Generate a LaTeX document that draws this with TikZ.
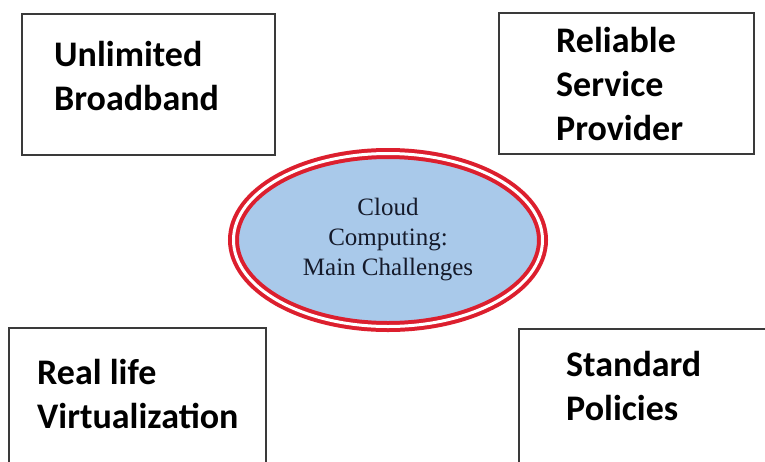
\documentclass[tikz,border=0pt]{standalone}
\usepackage{fontspec}
\setmainfont{Liberation Serif}
\newfontfamily\boxfont{Carlito}
\usetikzlibrary{shapes.geometric,positioning}
\definecolor{ringred}{HTML}{DC1F2E}
\definecolor{cloudblue}{HTML}{A9C9EA}
\definecolor{edgegray}{HTML}{3A3A3A}
\definecolor{inknavy}{HTML}{151A2A}
\begin{document}
\begin{tikzpicture}[x=1pt,y=-1pt,
  box/.style={draw=edgegray,line width=1.8pt,rectangle,inner sep=0pt},
  lbl/.style={font=\boxfont\bfseries\fontsize{36}{44}\selectfont,align=left,inner sep=0pt,anchor=base west},
  hub/.style={ellipse,draw=ringred,double=white,double distance=3pt,line width=4pt,fill=cloudblue,text=inknavy,font=\fontsize{25}{30}\selectfont,align=center,minimum width=309pt,minimum height=173pt,inner sep=0pt}]
\useasboundingbox[fill=white](0,0) rectangle (765,461);
\clip(0,0) rectangle (765,461);
\node(UB)[box,minimum width=253pt,minimum height=141pt] at (148.5,84.5){};
\node(RSP)[box,minimum width=255pt,minimum height=141pt] at (626.5,83.5){};
\node(RLV)[box,minimum width=257pt,minimum height=172pt] at (137.5,414){};
\node(SP)[box,minimum width=281pt,minimum height=171pt] at (659.5,414.5){};
\node(UBt)[lbl] at (54,110){Unlimited\\Broadband};
\node(RSPt)[lbl] at (556,140){Reliable\\Service\\Provider};
\node(RLVt)[lbl] at (37,428){Real life\\Virtualization};
\node(SPt)[lbl] at (566,420){Standard\\Policies};
\node(CC)[hub] at (388,240){Cloud\\Computing:\\Main Challenges};
\end{tikzpicture}
\end{document}
